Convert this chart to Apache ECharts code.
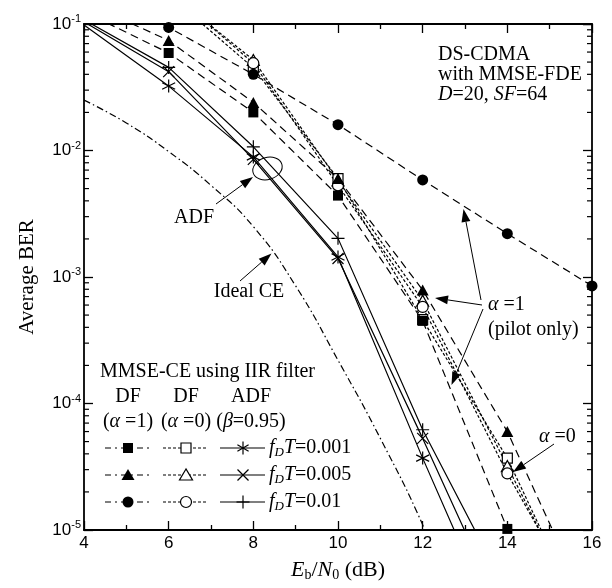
<!DOCTYPE html>
<html>
<head>
<meta charset="utf-8">
<script src="https://cdn.jsdelivr.net/npm/echarts@6/dist/echarts.min.js"></script>
<style>
  html, body { margin: 0; padding: 0; background: #fff; }
  #chart { width: 612px; height: 588px; }
</style>
</head>
<body>
<div id="chart"></div>
<script>
// Eb/N0 (dB) where the simulated curves were sampled
const ebn0 = [4, 6, 8, 10, 12, 14, 16];

// DF, alpha = 1 (pilot only) -> filled marks
const df1_001 = [0.125, 0.059, 0.020, 0.0044, 4.5e-4, 1.02e-5, null];
const df1_005 = [0.15, 0.074, 0.024, 0.0060, 7.9e-4, 6.0e-5, 2.1e-6];
const df1_01  = [0.22, 0.094, 0.040, 0.016, 5.85e-3, 2.2e-3, 8.5e-4];

// DF, alpha = 0 -> open marks
const df0_001 = [null, 0.17, 0.045, 0.0060, 4.6e-4, 3.7e-5, 1.4e-6];
const df0_005 = [null, 0.18, 0.052, 0.0058, 6.5e-4, 3.2e-5, 1.5e-6];
const df0_01  = [null, 0.185, 0.049, 0.0053, 5.8e-4, 2.8e-5, 1.8e-6];

// ADF (beta = 0.95)
const adf_001 = [0.098, 0.0323, 0.0089, 1.44e-3, 3.7e-5, 1.1e-6, null];
const adf_005 = [0.104, 0.042, 0.0085, 1.40e-3, 5.3e-5, 1.8e-6, null];
const adf_01  = [0.108, 0.0454, 0.0107, 2.02e-3, 6.2e-5, 3.2e-6, null];

// ideal channel estimation
const idealX = [4, 5, 6, 7, 8, 9, 10, 11, 12, 13];
const ideal  = [0.025, 0.0165, 0.0098, 0.0053, 0.0025, 8.5e-4, 2.2e-4, 5.3e-5, 1.1e-5, 1.7e-6];

const xMin = 4, xMax = 16, xStep = 2;
const yMin = 1e-5, yMax = 0.1;

const SERIF = '"Liberation Serif", "Times New Roman", serif';
const SANS = '"Liberation Sans", Arial, sans-serif';
const DASH = [8, 5];
const DOT = [3, 2];
const DASHDOT = [7, 3, 1.5, 3];
const LEG_DF1 = [6, 4, 2, 4];

const P_AST = 'path://M5,0L5,10M0.7,2.5L9.3,7.5M0.7,7.5L9.3,2.5';
const P_X = 'path://M0,0L10,10M0,10L10,0';
const P_PLUS = 'path://M5,0L5,10M0,5L10,5';

// minor log ticks 2..9 per decade
const minorY = [];
for (let e = -5; e <= -2; e++) {
  for (let m = 2; m <= 9; m++) minorY.push(m * Math.pow(10, e));
}

function curve(xs, ys, o) {
  const data = [];
  xs.forEach(function (x, i) {
    if (ys[i] == null) return;
    const item = { value: [x, ys[i]] };
    if (x === xMin || ys[i] > yMax) item.symbol = 'none';
    data.push(item);
  });
  return {
    type: 'line',
    data: data,
    clip: true,
    silent: true,
    smooth: o.smooth || false,
    symbol: o.symbol || 'none',
    symbolSize: o.size || 10,
    lineStyle: { color: '#000', width: 1.2, type: o.dash || 'solid' },
    itemStyle: { color: o.fill || '#000', borderColor: '#000', borderWidth: o.bw || 0 },
    z: o.z || 3
  };
}

// ---- graphic helpers (legend and notes) ----
function seg(x1, y1, x2, y2, dash, w) {
  return { type: 'line', shape: { x1: x1, y1: y1, x2: x2, y2: y2 },
    style: { stroke: '#000', lineWidth: w || 1.2, lineDash: dash || null }, z: 10 };
}
function mark(kind, cx, cy, open) {
  const st = open ? { fill: '#fff', stroke: '#000', lineWidth: 1.2 } : { fill: '#000' };
  if (kind === 'sq') return [{ type: 'rect', shape: { x: cx - 5, y: cy - 5, width: 10, height: 10 }, style: st, z: 11 }];
  if (kind === 'tri') return [{ type: 'polygon', shape: { points: [[cx, cy - 6], [cx - 6.5, cy + 5], [cx + 6.5, cy + 5]] }, style: st, z: 11 }];
  if (kind === 'cir') return [{ type: 'circle', shape: { cx: cx, cy: cy, r: 5.5 }, style: st, z: 11 }];
  if (kind === 'ast') return [seg(cx, cy - 6.5, cx, cy + 6.5), seg(cx - 5.6, cy - 3.2, cx + 5.6, cy + 3.2), seg(cx - 5.6, cy + 3.2, cx + 5.6, cy - 3.2)];
  if (kind === 'x') return [seg(cx - 5.5, cy - 5.5, cx + 5.5, cy + 5.5), seg(cx - 5.5, cy + 5.5, cx + 5.5, cy - 5.5)];
  return [seg(cx, cy - 6.5, cx, cy + 6.5), seg(cx - 6.5, cy, cx + 6.5, cy)];
}
function arrow(x1, y1, x2, y2) {
  const dx = x2 - x1, dy = y2 - y1, L = Math.sqrt(dx * dx + dy * dy);
  const ux = dx / L, uy = dy / L, hl = 13, hw = 4.5;
  const bx = x2 - ux * hl, by = y2 - uy * hl;
  return [
    seg(x1, y1, bx, by, null, 1),
    { type: 'polygon', shape: { points: [[x2, y2], [bx - uy * hw, by + ux * hw], [bx + uy * hw, by - ux * hw]] },
      style: { fill: '#000' }, z: 10 }
  ];
}
const RICH = {
  n: { fontFamily: SERIF, fontSize: 20, color: '#000' },
  i: { fontFamily: SERIF, fontSize: 20, fontStyle: 'italic', color: '#000' },
  sub: { fontFamily: SERIF, fontSize: 13, fontStyle: 'italic', color: '#000', padding: [9, 0, 0, 0] }
};
function txt(x, y, text, align) {
  return { type: 'text', x: x, y: y, z: 12,
    style: { text: text, fill: '#000', fontFamily: SERIF, fontSize: 20, align: align || 'left', verticalAlign: 'middle', rich: RICH } };
}

const rowsY = [448, 475, 502];
const rowText = ['0.001', '0.005', '0.01'];
const rowKinds = [['sq', 'ast'], ['tri', 'x'], ['cir', 'plus']];

let graphic = [];
// legend block
graphic.push(txt(100, 372, 'MMSE-CE using IIR filter'));
graphic.push(txt(128, 397, 'DF', 'center'));
graphic.push(txt(186, 397, 'DF', 'center'));
graphic.push(txt(251, 397, 'ADF', 'center'));
graphic.push(txt(128, 422, '{n|(}{i|α}{n| =1)}', 'center'));
graphic.push(txt(186, 422, '{n|(}{i|α}{n| =0)}', 'center'));
graphic.push(txt(251, 422, '{n|(}{i|β}{n|=0.95)}', 'center'));
rowsY.forEach(function (y, r) {
  graphic.push(seg(105, y, 150, y, LEG_DF1));
  graphic = graphic.concat(mark(rowKinds[r][0], 128, y, false));
  graphic.push(seg(163, y, 208, y, DOT));
  graphic = graphic.concat(mark(rowKinds[r][0], 186, y, true));
  graphic.push(seg(220, y, 265, y));
  graphic = graphic.concat(mark(rowKinds[r][1], 243, y, false));
  graphic.push(txt(269, y, '{i|f}{sub|D}{i|T}{n|=' + rowText[r] + '}'));
});
// header note
graphic.push(txt(438, 55, 'DS-CDMA'));
graphic.push(txt(438, 75, 'with MMSE-FDE'));
graphic.push(txt(438, 95, '{i|D}{n|=20, }{i|SF}{n|=64}'));
// annotations
graphic.push(txt(194, 218, 'ADF', 'center'));
graphic = graphic.concat(arrow(216, 204, 253, 177));
graphic.push({ type: 'ellipse', x: 267.5, y: 168.5, rotation: 0.3, shape: { cx: 0, cy: 0, rx: 15, ry: 11 },
  style: { fill: 'none', stroke: '#000', lineWidth: 1 }, z: 10 });
graphic.push(txt(249, 292, 'Ideal CE', 'center'));
graphic = graphic.concat(arrow(240, 281, 271.5, 253.5));
graphic.push(txt(488, 305, '{i|α}{n| =1}'));
graphic.push(txt(488, 330, '(pilot only)'));
graphic = graphic.concat(arrow(481, 300, 463.5, 209));
graphic = graphic.concat(arrow(482, 305, 435, 298));
graphic = graphic.concat(arrow(483, 309, 451.5, 385));
graphic.push(txt(539, 437, '{i|α}{n| =0}'));
graphic = graphic.concat(arrow(554, 444, 513, 472));

const axisLine = { show: true, onZero: false, lineStyle: { color: '#000', width: 1.8 } };
const tick = { show: true, inside: true, length: 9, lineStyle: { color: '#000', width: 1.3 } };
const minorTick = { show: true, splitNumber: 2, length: 5, lineStyle: { color: '#000', width: 1.3 } };

const chart = echarts.init(document.getElementById('chart'), null, { renderer: 'canvas' });
chart.setOption({
  animation: false,
  backgroundColor: '#fff',
  grid: { left: 84, right: 20, top: 24, bottom: 58, containLabel: false, outerBoundsMode: 'none' },
  xAxis: [{
    type: 'value', min: xMin, max: xMax, interval: xStep, position: 'bottom',
    axisLine: axisLine, axisTick: tick, minorTick: minorTick,
    splitLine: { show: false }, minorSplitLine: { show: false },
    axisLabel: { margin: 5, color: '#000', fontFamily: SANS, fontSize: 17 },
    name: '{i|E}{s|b}{n|/}{i|N}{s|0}{n| (dB)}',
    nameLocation: 'middle', nameGap: 28, nameMoveOverlap: false,
    nameTextStyle: {
      color: '#000', fontFamily: SERIF, fontSize: 22,
      rich: {
        i: { fontFamily: SERIF, fontSize: 22, fontStyle: 'italic', color: '#000' },
        n: { fontFamily: SERIF, fontSize: 22, color: '#000' },
        s: { fontFamily: SERIF, fontSize: 14, color: '#000', padding: [10, 0, 0, 0] }
      }
    }
  }, {
    type: 'value', min: xMin, max: xMax, interval: xStep, position: 'top',
    axisLine: axisLine, axisTick: tick, minorTick: minorTick,
    splitLine: { show: false }, axisLabel: { show: false }
  }],
  yAxis: [{
    type: 'log', logBase: 10, min: yMin, max: yMax, position: 'left',
    axisLine: axisLine, axisTick: tick, splitLine: { show: false },
    axisLabel: {
      margin: 3,
      formatter: function (v) { return '{b|10}{s|' + Math.round(Math.log10(v)) + '}'; },
      rich: {
        b: { fontFamily: SANS, fontSize: 17, color: '#000' },
        s: { fontFamily: SANS, fontSize: 11, color: '#000', padding: [0, 0, 10, 0] }
      }
    },
    name: 'Average BER', nameLocation: 'middle', nameGap: 46, nameRotate: 90, nameMoveOverlap: false,
    nameTextStyle: { color: '#000', fontFamily: SERIF, fontSize: 21 }
  }, {
    type: 'log', logBase: 10, min: yMin, max: yMax, position: 'right',
    axisLine: axisLine, axisTick: tick, splitLine: { show: false }, axisLabel: { show: false }
  }],
  series: [
    {
      type: 'custom', silent: true, clip: false, z: 1,
      data: minorY.map(function (v) { return [xMin, v]; }),
      renderItem: function (params, api) {
        const v = api.value(1);
        const a = api.coord([xMin, v]), b = api.coord([xMax, v]);
        return { type: 'group', children: [
          { type: 'line', shape: { x1: a[0], y1: a[1], x2: a[0] + 5, y2: a[1] }, style: { stroke: '#000', lineWidth: 1.2 } },
          { type: 'line', shape: { x1: b[0] - 5, y1: b[1], x2: b[0], y2: b[1] }, style: { stroke: '#000', lineWidth: 1.2 } }
        ] };
      }
    },
    curve(idealX, ideal, { dash: DASHDOT, smooth: true, z: 2 }),
    curve(ebn0, adf_001, { symbol: P_AST, size: 13, bw: 1.2 }),
    curve(ebn0, adf_005, { symbol: P_X, size: 11, bw: 1.2 }),
    curve(ebn0, adf_01, { symbol: P_PLUS, size: 13, bw: 1.2 }),
    curve(ebn0, df0_001, { dash: DOT, symbol: 'rect', size: 10, fill: '#fff', bw: 1.2, z: 4 }),
    curve(ebn0, df0_005, { dash: DOT, symbol: 'triangle', size: [12, 11], fill: '#fff', bw: 1.2, z: 4 }),
    curve(ebn0, df0_01, { dash: DOT, symbol: 'circle', size: 11, fill: '#fff', bw: 1.2, z: 4 }),
    curve(ebn0, df1_001, { dash: DASH, symbol: 'rect', size: 10, z: 5 }),
    curve(ebn0, df1_005, { dash: DASH, symbol: 'triangle', size: [12, 11], z: 5 }),
    curve(ebn0, df1_01, { dash: DASH, symbol: 'circle', size: 11, z: 5 })
  ],
  graphic: graphic
});
</script>
</body>
</html>
